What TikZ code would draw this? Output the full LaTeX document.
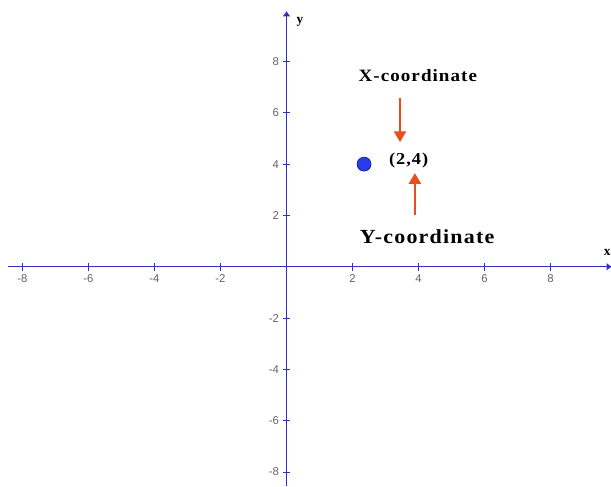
\documentclass[tikz,border=0pt]{standalone}
\usepackage{fontspec}
\setmainfont{Liberation Serif}
\newfontfamily\ticksans{Liberation Sans}
\newfontfamily\widebold[LetterSpace=6, FakeStretch=1.1]{Liberation Serif}
\usetikzlibrary{arrows.meta}
\definecolor{axisBlue}{RGB}{48, 48, 200}
\definecolor{dotBlue}{RGB}{40, 60, 235}
\definecolor{arrowRed}{RGB}{232, 78, 30}
\definecolor{tickGray}{RGB}{100, 100, 100}

\begin{document}
\begin{tikzpicture}[x=24.75pt, y=19.24pt,
    axisline/.style={draw=axisBlue, line width=0.9pt},
    tickmark/.style={draw=axisBlue, line width=0.6pt},
    ticklabel/.style={text=tickGray, font=\ticksans\fontsize{8.5}{10}\selectfont, inner sep=1pt},
    pointer/.style={-{Triangle[length=8pt, width=9pt]}, line width=1.6pt, color=arrowRed},
    boldlabel/.style={font=\bfseries, inner sep=0pt}]
    \useasboundingbox (-8.682, -8.550) rectangle (9.833, 10.398);

    % Axes
    \coordinate (xstart) at (-8.44, 0);
    \coordinate (xend) at (9.86, 0);
    \coordinate (ystart) at (0, -8.55);
    \coordinate (yend) at (0, 9.97);
    \draw[axisline, -{Latex[length=4pt, width=6pt]}] (xstart) -- (xend);
    \draw[axisline, -{Latex[length=4pt, width=6pt]}] (ystart) -- (yend);
    \node[boldlabel, font=\bfseries\fontsize{10}{12}\selectfont] (xname) at (9.72, 0.57) {x};
    \node[boldlabel, font=\bfseries\fontsize{10}{12}\selectfont] (yname) at (0.41, 9.54) {y};

    % Ticks and numbers
    \foreach \t in {-8, -6, -4, -2, 2, 4, 6, 8} {
        \draw[tickmark] (\t, -0.16) -- (\t, 0.16);
        \node[ticklabel] (xtick\t) at (\t, -0.46) {\t};
        \draw[tickmark] (-0.12, \t) -- (0.12, \t);
        \node[ticklabel, anchor=east] (ytick\t) at (-0.18, \t) {\t};
    }

    % The point and its labels
    \node[circle, fill=dotBlue, draw=dotBlue!55!black, line width=0.5pt, minimum size=10.5pt, inner sep=0pt] (pt) at (2.35, 4) {};
    \node[boldlabel, font=\widebold\bfseries\fontsize{12.5}{14}\selectfont] (ptlabel) at (3.70, 4.16) {(2,4)};
    \node[boldlabel, font=\widebold\bfseries\fontsize{13}{15}\selectfont] (xlab) at (3.98, 7.47) {X-coordinate};
    \node[boldlabel, font=\widebold\bfseries\fontsize{15}{17}\selectfont] (ylab) at (4.26, 1.16) {Y-coordinate};

    % Arrows
    \coordinate (xtail) at (3.44, 6.58);
    \coordinate (xtip) at (3.44, 4.86);
    \coordinate (ytail) at (3.89, 2.02);
    \coordinate (ytip) at (3.89, 3.65);
    \draw[pointer] (xtail) -- (xtip);
    \draw[pointer] (ytail) -- (ytip);
\end{tikzpicture}
\end{document}
